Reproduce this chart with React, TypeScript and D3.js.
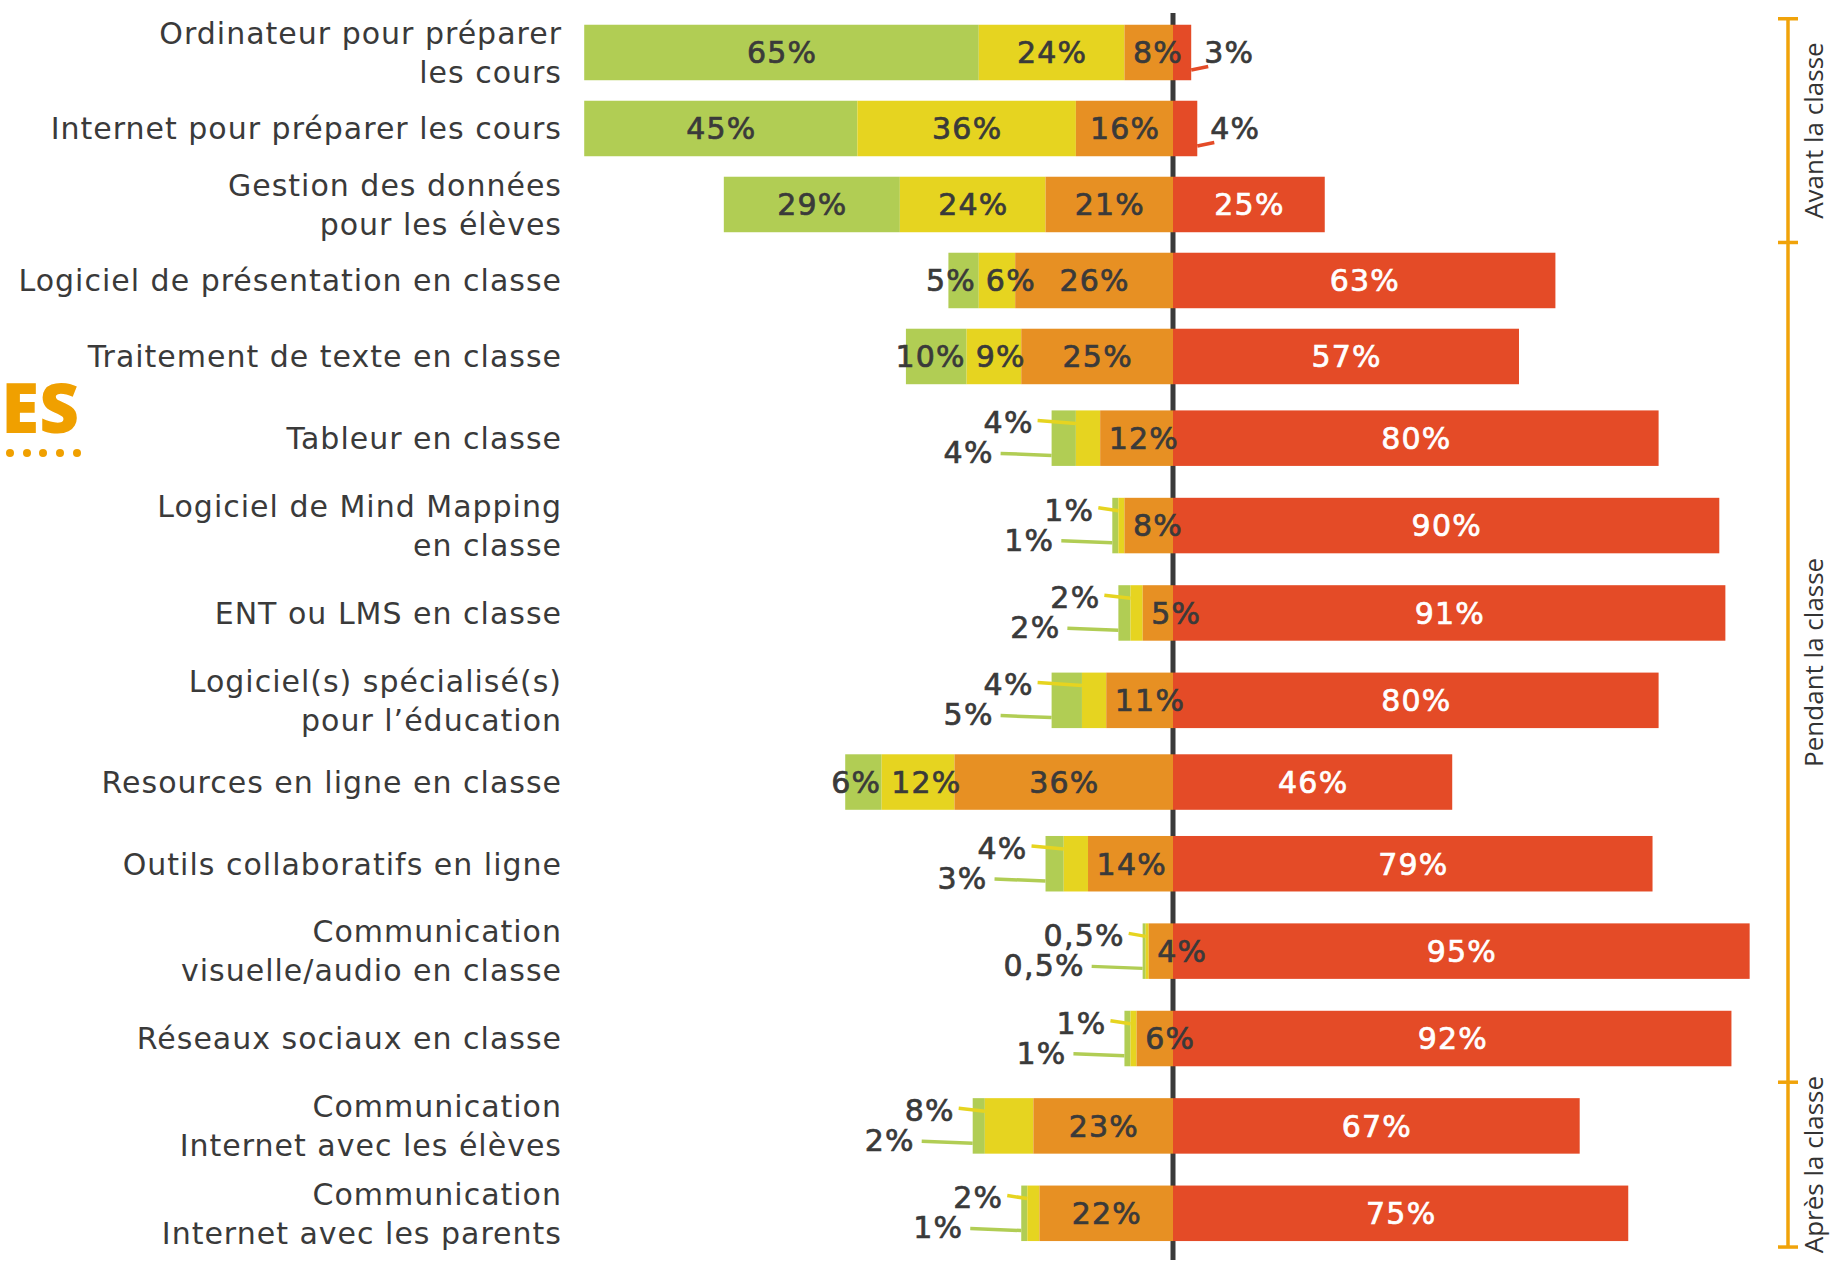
import React from "react";
import * as d3 from "d3";

// ---------- data ----------
const categories: string[][] = [
  ["Ordinateur pour préparer", "les cours"],
  ["Internet pour préparer les cours"],
  ["Gestion des données", "pour les élèves"],
  ["Logiciel de présentation en classe"],
  ["Traitement de texte en classe"],
  ["Tableur en classe"],
  ["Logiciel de Mind Mapping", "en classe"],
  ["ENT ou LMS en classe"],
  ["Logiciel(s) spécialisé(s)", "pour l’éducation"],
  ["Resources en ligne en classe"],
  ["Outils collaboratifs en ligne"],
  ["Communication", "visuelle/audio en classe"],
  ["Réseaux sociaux en classe"],
  ["Communication", "Internet avec les élèves"],
  ["Communication", "Internet avec les parents"],
];
const greenValues = [65, 45, 29, 5, 10, 4, 1, 2, 5, 6, 3, 0.5, 1, 2, 1];
const yellowValues = [24, 36, 24, 6, 9, 4, 1, 2, 4, 12, 4, 0.5, 1, 8, 2];
const orangeValues = [8, 16, 21, 26, 25, 12, 8, 5, 11, 36, 14, 4, 6, 23, 22];
const redValues = [3, 4, 25, 63, 57, 80, 90, 91, 80, 46, 79, 95, 92, 67, 75];

const phaseLabels = ["Avant la classe", "Pendant la classe", "Après la classe"];
const phaseFirstRow = [0, 3, 13];
const phaseLastRow = [2, 12, 14];

// ---------- style ----------
const W = 1832;
const H = 1266;
const GREEN = "#B1CD54";
const YELLOW = "#E6D420";
const ORANGE = "#E79023";
const RED = "#E44B27";
const TEXT = "#3A3A3A";
const GOLD = "#F0A30A";
const FONT = "'DejaVu Sans', sans-serif";
const PCT_FS = 30;
const PCT_LS = 1.2;
const CAT_FS = 30;
const CAT_LS = 1.0;
const BAR_H = 55.5;

const fmt = (v: number) => String(v).replace(".", ",") + "%";
const charW: Record<string, number> = { "%": 0.95, ",": 0.318 };
const estWidth = (s: string) =>
  s.split("").reduce((a, c) => a + (charW[c] ?? 0.636) * PCT_FS + PCT_LS, 0);

export default function App() {
  const n = categories.length;
  const annotated = d3.range(n).map((i) => greenValues[i] + yellowValues[i] <= 10);
  const units = annotated.map((a) => (a ? 1.15 : 1));
  const cum = Array.from(d3.cumsum(units));
  const total = cum[n - 1];
  const yUnit = d3.scaleLinear().domain([0, total]).range([14.5, 1257]);
  const cy = d3.range(n).map((i) => yUnit(cum[i] - units[i] / 2));

  const x = d3.scaleLinear().domain([-100, 100]).range([1173 - 607, 1173 + 607]);
  const zero = x(0);

  const rows = d3.range(n).map((i) => {
    const g = greenValues[i], yv = yellowValues[i], o = orangeValues[i], r = redValues[i];
    const gl = x(-(g + yv + o)), yl = x(-(yv + o)), ol = x(-o), rr = x(r);
    return { i, g, yv, o, r, gl, yl, ol, rr, top: cy[i] - BAR_H / 2, c: cy[i] };
  });

  const elements: React.ReactNode[] = [];

  rows.forEach((row) => {
    const { i, gl, yl, ol, rr, top } = row;
    const segs = [
      { x0: gl, x1: yl, fill: GREEN },
      { x0: yl, x1: ol, fill: YELLOW },
      { x0: ol, x1: zero, fill: ORANGE },
      { x0: zero, x1: rr, fill: RED },
    ];
    segs.forEach((s, k) =>
      elements.push(
        <rect key={`b${i}-${k}`} x={s.x0} y={top} width={Math.max(0, s.x1 - s.x0)} height={BAR_H} fill={s.fill} />
      )
    );
  });

  const labels: React.ReactNode[] = [];
  rows.forEach((row) => {
    const { i, g, yv, o, r, gl, yl, ol, rr, top, c } = row;
    const ot = fmt(o);
    const ow = estWidth(ot);
    const oCenter = Math.max((ol + zero) / 2, ol + 8 + ow / 2);
    const textProps = {
      fontFamily: FONT,
      fontSize: PCT_FS,
      letterSpacing: PCT_LS,
      fill: TEXT,
      stroke: TEXT,
      strokeWidth: 0.7,
      dy: "0.36em",
    };
    if (!annotated[i]) {
      const items = [
        { t: fmt(g), c: (gl + yl) / 2 },
        { t: fmt(yv), c: (yl + ol) / 2 },
        { t: ot, c: oCenter },
      ].map((d) => ({ ...d, w: estWidth(d.t) }));
      for (let it = 0; it < 10; it++) {
        for (let j = 0; j < 2; j++) {
          const need = (items[j].w + items[j + 1].w) / 2 + 10;
          const d = items[j + 1].c - items[j].c;
          if (d < need) {
            const sh = (need - d) / 2;
            items[j].c -= sh;
            items[j + 1].c += sh;
          }
        }
      }
      items.forEach((it, k) =>
        labels.push(
          <text key={`l${i}-${k}`} x={it.c + PCT_LS / 2} y={c} textAnchor="middle" {...textProps}>
            {it.t}
          </text>
        )
      );
    } else {
      labels.push(
        <text key={`lo${i}`} x={oCenter + PCT_LS / 2} y={c} textAnchor="middle" {...textProps}>
          {ot}
        </text>
      );
      const yRight = gl - 18;
      const gRight = gl - 58;
      labels.push(
        <text key={`ly${i}`} x={yRight} y={top + 12} textAnchor="end" {...textProps}>
          {fmt(yv)}
        </text>
      );
      labels.push(
        <line key={`lyl${i}`} x1={yRight + 4} y1={top + 10} x2={yl} y2={top + 13} stroke={YELLOW} strokeWidth={3.5} />
      );
      labels.push(
        <text key={`lg${i}`} x={gRight} y={top + 42} textAnchor="end" {...textProps}>
          {fmt(g)}
        </text>
      );
      labels.push(
        <line key={`lgl${i}`} x1={gRight + 7} y1={top + 43} x2={gl} y2={top + 45} stroke={GREEN} strokeWidth={3.5} />
      );
    }
    if (r >= 10) {
      labels.push(
        <text
          key={`lr${i}`}
          x={(zero + rr) / 2 + PCT_LS / 2}
          y={c}
          textAnchor="middle"
          {...textProps}
          fill="#FFFFFF"
          stroke="#FFFFFF"
        >
          {fmt(r)}
        </text>
      );
    } else {
      labels.push(
        <line key={`lrl${i}`} x1={rr} y1={c + 17.5} x2={rr + 17} y2={c + 14} stroke={RED} strokeWidth={3.5} />
      );
      labels.push(
        <text key={`lr${i}`} x={rr + 13} y={c} textAnchor="start" {...textProps}>
          {fmt(r)}
        </text>
      );
    }
  });

  // category labels
  const cats = rows.map((row) => {
    const lines = categories[row.i];
    const off = (lines.length - 1) * 19.5;
    return (
      <text
        key={`c${row.i}`}
        x={562}
        textAnchor="end"
        fontFamily={FONT}
        fontSize={CAT_FS}
        letterSpacing={CAT_LS}
        fill={TEXT}
      >
        {lines.map((ln, k) => (
          <tspan key={k} x={562} y={row.c - off + k * 39} dy="0.36em">
            {ln}
          </tspan>
        ))}
      </text>
    );
  });

  // phase bracket
  const bx = 1788;
  const rowTop = (i: number) => rows[i].top;
  const rowBottom = (i: number) => rows[i].top + BAR_H;
  const bounds: number[] = [rowTop(0) - 6];
  for (let p = 0; p < phaseLabels.length - 1; p++) {
    bounds.push((rowBottom(phaseLastRow[p]) + rowTop(phaseFirstRow[p + 1])) / 2);
  }
  bounds.push(rowBottom(phaseLastRow[phaseLabels.length - 1]) + 6);

  return (
    <svg
      width={W}
      height={H}
      viewBox={`0 0 ${W} ${H}`}
      style={{ position: "absolute", left: 0, top: 0, background: "#fff" }}
    >
      <rect x={0} y={0} width={W} height={H} fill="#fff" />
      <line x1={zero} x2={zero} y1={13} y2={1260} stroke={TEXT} strokeWidth={5} />
      {elements}
      {labels}
      {cats}
      <line x1={bx} x2={bx} y1={bounds[0]} y2={bounds[bounds.length - 1]} stroke={GOLD} strokeWidth={3.5} />
      {bounds.map((b, k) => (
        <line key={`t${k}`} x1={bx - 10} x2={bx + 10} y1={b} y2={b} stroke={GOLD} strokeWidth={3.5} />
      ))}
      {phaseLabels.map((pl, k) => (
        <text
          key={`p${k}`}
          transform={`translate(1823, ${(bounds[k] + bounds[k + 1]) / 2}) rotate(-90)`}
          textAnchor="middle"
          fontFamily="'Open Sans', sans-serif"
          fontSize={26}
          fill="#333"
        >
          {pl}
        </text>
      ))}
      <text x={79} y={433} textAnchor="end" fontFamily="'Open Sans', sans-serif" fontWeight={800} fontSize={69} fill="#F0A000">
        ES
      </text>
      {[10, 27, 43, 60, 77].map((dx, k) => (
        <circle key={`d${k}`} cx={dx} cy={453} r={4} fill="#F0A000" />
      ))}
    </svg>
  );
}
